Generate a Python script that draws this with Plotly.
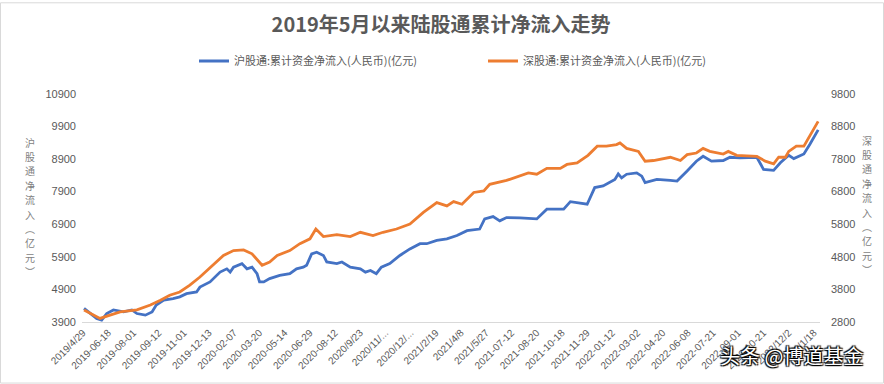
import plotly.graph_objects as go

# ---------------- data ----------------
title_text = "2019年5月以来陆股通累计净流入走势"
sh_name = "沪股通:累计资金净流入(人民币)(亿元)"
sz_name = "深股通:累计资金净流入(人民币)(亿元)"

LABEL_STEP = 30  # trading days between tick labels
tick_labels = [
    "2019/4/29", "2019-06-18", "2019-08-01", "2019-09-12", "2019-11-01",
    "2019-12-13", "2020-02-07", "2020-03-20", "2020-05-14", "2020-06-29",
    "2020-08-12", "2020/9/23", "2020/11/...", "2020/12/...", "2021/2/19",
    "2021/4/8", "2021/5/27", "2021-07-12", "2021-08-20", "2021-10-18",
    "2021-11-29", "2022-01-12", "2022-03-02", "2022-04-20", "2022-06-08",
    "2022-07-21", "2022-09-01", "2022-10-21", "2022/12/2", "2023/1/18",
]

# trading-day index of each sampled point (Shanghai connect, left axis)
sh_days = [0, 15, 21, 27, 35, 47, 57, 63, 73, 81, 86, 95, 106, 114, 122, 134, 138,
           150, 162, 170, 174, 178, 188, 194, 200, 206, 209, 214, 221, 233, 245,
           253, 261, 265, 271, 277, 285, 289, 301, 307, 317, 329, 335, 341, 348,
           354, 364, 376, 388, 400, 408, 420, 432, 444, 456, 471, 477, 487, 495,
           503, 519, 539, 551, 571, 579, 599, 608, 618, 632, 636, 640, 646, 658,
           664, 668, 682, 698, 706, 718, 729, 737, 747, 761, 769, 781, 801, 809,
           821, 829, 839, 845, 857, 864, 874]
sh_values = [4320, 4010, 3960, 4160, 4270, 4210, 4270, 4160, 4110, 4210, 4420, 4570,
             4620, 4670, 4770, 4820, 4970, 5130, 5430, 5530, 5430, 5580, 5690, 5530,
             5580, 5380, 5130, 5130, 5230, 5330, 5380, 5530, 5580, 5640, 5990, 6040,
             5940, 5740, 5690, 5740, 5580, 5530, 5430, 5480, 5380, 5580, 5690, 5940,
             6140, 6300, 6300, 6400, 6450, 6550, 6700, 6750, 7060, 7130, 7000, 7100,
             7090, 7060, 7360, 7360, 7590, 7510, 8020, 8070, 8270, 8440, 8320, 8430,
             8470, 8370, 8170, 8270, 8240, 8220, 8530, 8830, 8980, 8830, 8850, 8950,
             8930, 8950, 8580, 8550, 8780, 9010, 8910, 9050, 9340, 9790]

# Shenzhen connect, right axis
sz_days = [0, 11, 19, 31, 43, 63, 79, 91, 102, 114, 126, 138, 154, 166, 178, 190,
           200, 212, 221, 230, 245, 257, 269, 276, 285, 301, 317, 329, 344, 356,
           372, 388, 404, 420, 432, 440, 450, 464, 476, 483, 503, 519, 529, 539,
           551, 567, 575, 587, 600, 611, 622, 634, 638, 646, 660, 668, 678, 698,
           710, 718, 729, 737, 745, 761, 767, 777, 801, 811, 821, 827, 835, 839,
           848, 857, 864, 874]
sz_values = [3165, 3010, 2910, 3010, 3110, 3170, 3320, 3470, 3620, 3720, 3930, 4180,
             4540, 4840, 4990, 5010, 4890, 4540, 4640, 4840, 4990, 5200, 5350, 5650,
             5420, 5480, 5420, 5550, 5450, 5550, 5650, 5800, 6160, 6460, 6360, 6490,
             6410, 6770, 6820, 7020, 7140, 7270, 7370, 7330, 7510, 7510, 7630, 7680,
             7910, 8190, 8190, 8240, 8290, 8120, 8030, 7730, 7750, 7850, 7750, 7930,
             7980, 8120, 8030, 7950, 8030, 7910, 7880, 7730, 7650, 7850, 7850, 8030,
             8190, 8190, 8490, 8950]

left_title = "沪股通净流入︵亿元︶"
right_title = "深股通净流入︵亿元︶"
watermark = "头条 @博道基金"

# ---------------- figure ----------------
FONT = "Liberation Sans, Noto Sans CJK SC, sans-serif"
CJK = "Noto Sans CJK SC, sans-serif"
GRAY = "#595959"
W, H = 884, 384
PL, PR, PT, PB = 82, 820, 92, 322  # plot area in pixels


def px_x(px):
    return (px - PL) / (PR - PL)


def px_y(py):
    return (PB - py) / (PB - PT)


fig = go.Figure()
fig.add_trace(go.Scatter(x=sh_days, y=sh_values, name=sh_name, mode="lines",
                         line=dict(color="#4472C4", width=2.8), yaxis="y"))
fig.add_trace(go.Scatter(x=sz_days, y=sz_values, name=sz_name, mode="lines",
                         line=dict(color="#ED7D31", width=2.8), yaxis="y2"))

tick_days = [i * LABEL_STEP for i in range(len(tick_labels))]

fig.update_layout(
    width=W, height=H,
    margin=dict(l=PL, r=W - PR, t=PT, b=H - PB),
    paper_bgcolor="white", plot_bgcolor="white",
    font=dict(family=FONT, color=GRAY),
    title=dict(text="<b>" + title_text + "</b>", x=0.499, xanchor="center",
               y=1 - 25 / H, yanchor="middle", yref="container",
               font=dict(size=20, color=GRAY, family=CJK)),
    showlegend=True,
    legend=dict(orientation="h", xref="container", yref="container",
                x=194 / W, xanchor="left", y=1 - 61 / H, yanchor="middle",
                font=dict(size=11, color=GRAY, family=CJK),
                itemwidth=30, entrywidth=244, entrywidthmode="pixels",
                bgcolor="rgba(0,0,0,0)"),
    xaxis=dict(range=[-2.4, 876.2], tickvals=tick_days, ticktext=tick_labels,
               tickangle=-45, showgrid=False, zeroline=False, showline=True,
               linecolor="#d9d9d9", linewidth=1, ticks="",
               ticklabelshift=-1,
               tickfont=dict(size=10, color=GRAY)),
    yaxis=dict(range=[3900, 10900], tick0=3900, dtick=1000, showgrid=False,
               zeroline=False, ticks="", tickformat="d",
               tickfont=dict(size=11, color=GRAY), ticklabelstandoff=5),
    yaxis2=dict(range=[2800, 9800], tick0=2800, dtick=1000, showgrid=False,
                zeroline=False, ticks="", overlaying="y", side="right",
                tickformat="d", tickfont=dict(size=11, color=GRAY),
                ticklabelstandoff=10),
)

PITCH = 14.5
for title, cx, cy in ((left_title, 30, 206), (right_title, 867, 204)):
    n = len(title)
    for i, ch in enumerate(title):
        fig.add_annotation(text=ch, xref="paper", yref="paper",
                           x=px_x(cx), y=px_y(cy + (i - (n - 1) / 2) * PITCH),
                           showarrow=False, xanchor="center", yanchor="middle",
                           font=dict(size=10, color="#7f7f7f", family=CJK))

fig.add_annotation(text=watermark, xref="paper", yref="paper",
                   x=px_x(791), y=px_y(356), showarrow=False,
                   font=dict(size=20, color="white", family=CJK,
                             shadow="1px 1px 1px #000, -1px -1px 1px #000, 1px -1px 1px #000, -1px 1px 1px #000"),
                   xanchor="center", yanchor="middle")

# chart border
fig.add_shape(type="rect", xref="paper", yref="paper",
              x0=px_x(0.5), x1=px_x(W - 0.5), y0=px_y(H - 0.5), y1=px_y(0.5),
              line=dict(color="#d9d9d9", width=1), layer="below")

fig.write_html("out.html", config={"displayModeBar": False},
               post_script="document.body.style.margin='0';document.body.style.overflow='hidden';")
